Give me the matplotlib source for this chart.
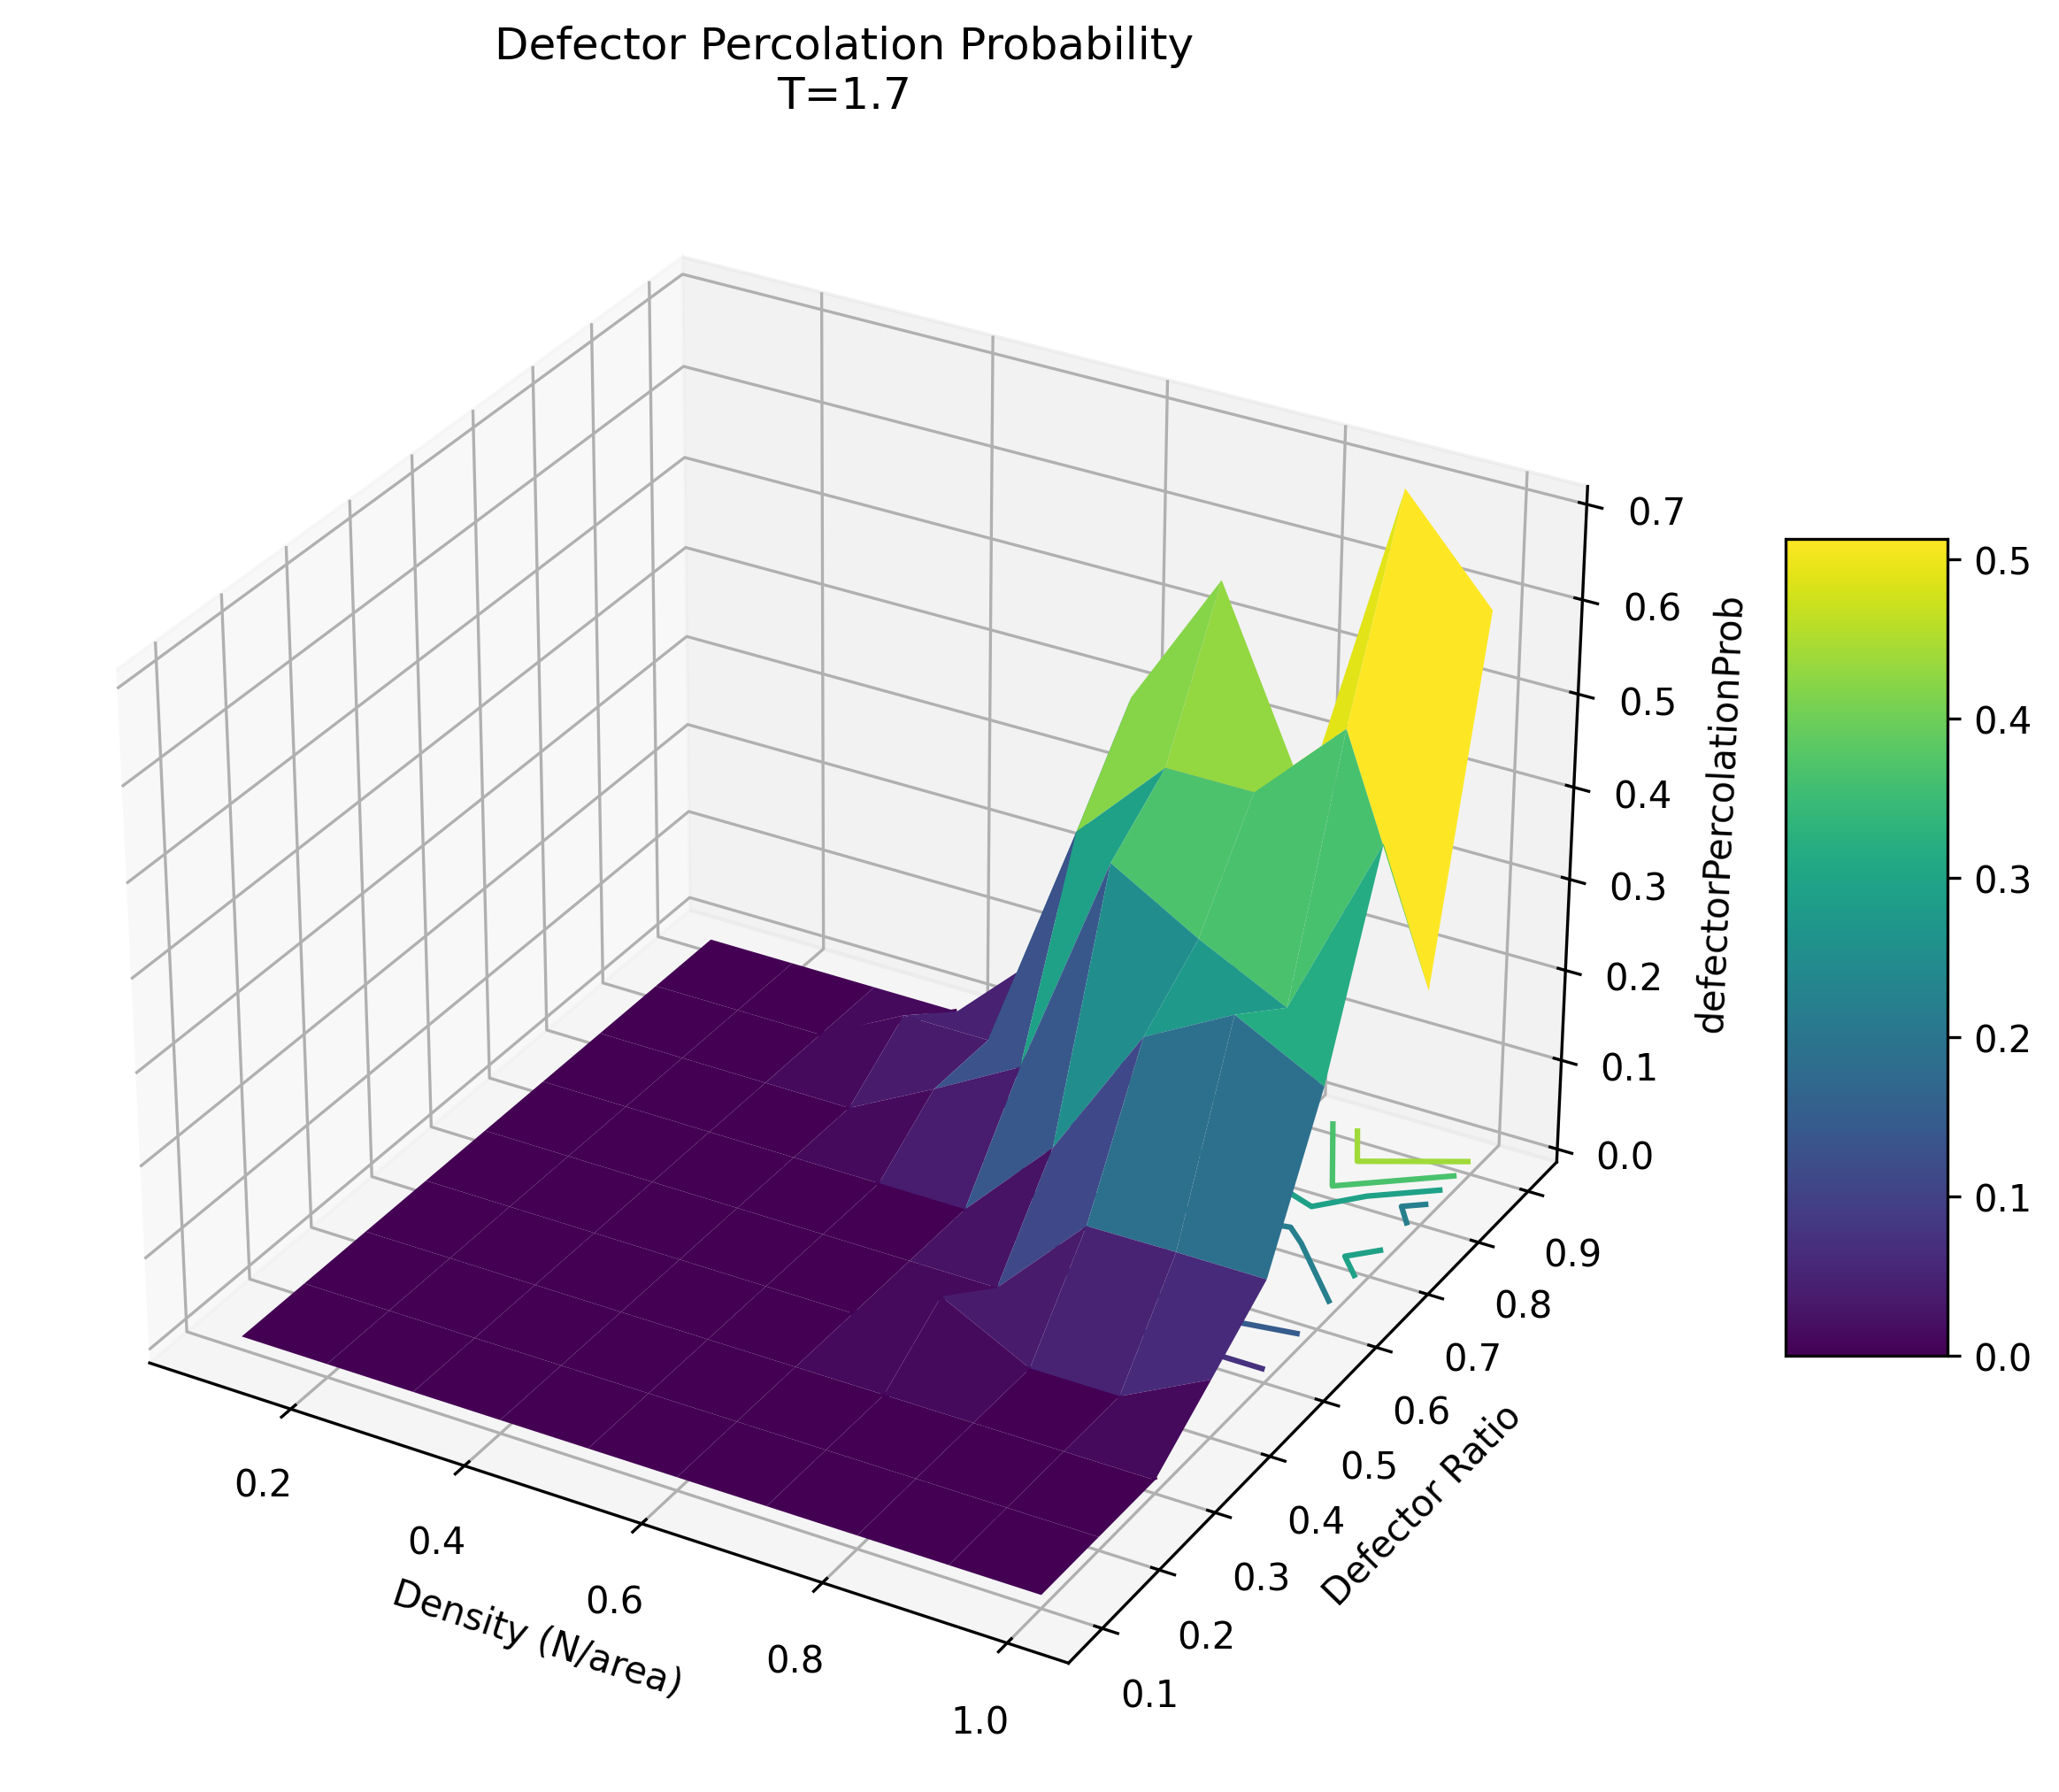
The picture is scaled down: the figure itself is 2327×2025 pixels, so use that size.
import numpy as np
import matplotlib.pyplot as plt

density = [0.1, 0.2, 0.3, 0.4, 0.5, 0.6, 0.7, 0.8, 0.9, 1.0]
ratio = [0.1, 0.2, 0.3, 0.4, 0.5, 0.6, 0.7, 0.8, 0.9]
contour_levels = [0, 0.1, 0.2, 0.3, 0.4, 0.5, 0.6]

# rows = defector ratio, columns = density
prob = [
    [0, 0, 0, 0, 0, 0, 0, 0, 0, 0],
    [0, 0, 0, 0, 0, 0, 0, 0, 0, 0],
    [0, 0, 0, 0, 0, 0, 0, 0, 0, 0],
    [0, 0, 0, 0, 0, 0, 0.049, 0, 0, 0.049],
    [0, 0, 0, 0, 0, 0, 0, 0.098, 0.099, 0.099],
    [0, 0, 0, 0, 0, 0, 0.098, 0.248, 0.30, 0.251],
    [0, 0, 0, 0, 0.05, 0.103, 0.355, 0.30, 0.253, 0.456],
    [0, 0, 0, 0.05, 0.05, 0.31, 0.406, 0.406, 0.50, 0.245],
    [0, 0, 0, 0, 0.091, 0.406, 0.558, 0.35, 0.704, 0.601],
]

X, Y = np.meshgrid(density, ratio)
Z = np.array(prob)

fig = plt.figure(figsize=(7.757, 6.753), dpi=300)
ax = fig.add_axes([-0.0464, 0.0143, 0.9126, 0.9126], projection='3d')
# contours stay under the surface
ax.computed_zorder = False
ax.contour(X, Y, Z, levels=contour_levels, zdir='z', offset=0, cmap='viridis',
           vmin=0, vmax=0.7, zorder=1)
surf = ax.plot_surface(X, Y, Z, cmap='viridis', rstride=1, cstride=1,
                       linewidth=0, antialiased=True, zorder=2)
ax.set_xlabel('Density (N/area)')
ax.set_ylabel('Defector Ratio')
ax.set_zlabel('defectorPercolationProb')
ax.set_title('Defector Percolation Probability\nT=1.7')
cax = fig.add_axes([0.8673, 0.2432, 0.0784, 0.4557])
fig.colorbar(surf, cax=cax)
fig.savefig('out.png', dpi=300)
